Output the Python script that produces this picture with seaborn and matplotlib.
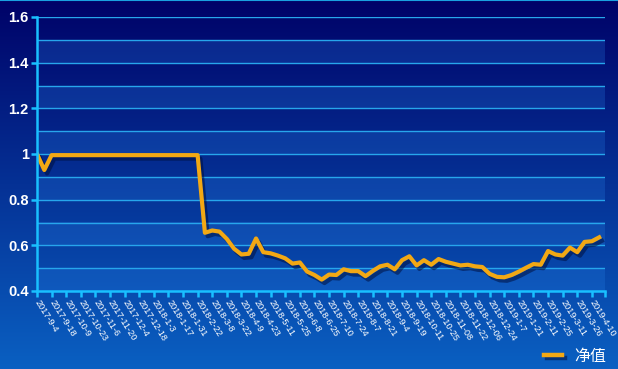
import numpy as np
import matplotlib
matplotlib.use("Agg")
import matplotlib.pyplot as plt
import matplotlib.patheffects as pe
import seaborn as sns
import pandas as pd

# ---- data ----
tick_labels = ["2017-9-4", "2017-9-18", "2017-10-9", "2017-10-23", "2017-11-6", "2017-11-20",
               "2017-12-4", "2017-12-18", "2018-1-3", "2018-1-17", "2018-1-31", "2018-2-22",
               "2018-3-8", "2018-3-22", "2018-4-9", "2018-4-23", "2018-5-11", "2018-5-25",
               "2018-6-8", "2018-6-25", "2018-7-10", "2018-7-24", "2018-8-7", "2018-8-21",
               "2018-9-4", "2018-9-19", "2018-10-11", "2018-10-25", "2018-11-08", "2018-11-22",
               "2018-12-06", "2018-12-24", "2019-1-7", "2019-1-21", "2019-2-11", "2019-2-25",
               "2019-3-11", "2019-3-26", "2019-4-10"]
# net value sampled every 5 trading days
nav = [1.00, 0.93, 0.995, 0.995, 0.995, 0.995, 0.995, 0.995, 0.995, 0.995,
       0.995, 0.995, 0.995, 0.995, 0.995, 0.995, 0.995, 0.995, 0.995, 0.995,
       0.995, 0.995, 0.995, 0.655, 0.665, 0.66, 0.628, 0.585, 0.56, 0.563,
       0.63, 0.57, 0.565, 0.555, 0.543, 0.52, 0.525, 0.485, 0.47, 0.45,
       0.472, 0.47, 0.495, 0.487, 0.487, 0.465, 0.488, 0.508, 0.515, 0.495,
       0.535, 0.552, 0.512, 0.535, 0.515, 0.54, 0.528, 0.52, 0.512, 0.515,
       0.508, 0.505, 0.475, 0.462, 0.46, 0.47, 0.485, 0.502, 0.518, 0.515,
       0.575, 0.56, 0.555, 0.59, 0.57, 0.615, 0.618, 0.635]
series_name = "净值"

step = 5
label_every = 10
x_end = 389

df = pd.DataFrame({"day": np.arange(len(nav)) * step, "nav": nav})

W, H = 618, 369
fig = plt.figure(figsize=(W / 100, H / 100), dpi=100)

# background gradient
bg = fig.add_axes([0, 0, 1, 1], zorder=-10)
grad = np.linspace(0, 1, 256).reshape(-1, 1)
top = np.array([0x00, 0x02, 0x68]) / 255
bot = np.array([0x0a, 0x60, 0xc2]) / 255
img = top + (bot - top) * grad[:, :, None] * np.ones((1, 2, 1))
bg.imshow(img, aspect="auto", extent=[0, 1, 0, 1], origin="upper")
bg.axis("off")
bg.plot([0, 1], [0.999, 0.999], color="#1aa0e0", lw=1.5, transform=bg.transAxes)

ax = fig.add_axes([37 / W, (H - 291) / H, (605 - 37) / W, (291 - 17) / H])
ax.set_facecolor("none")

# split area bands
for i, y0 in enumerate(np.arange(0.4, 1.6, 0.1)):
    if i % 2 == 0:
        ax.axhspan(y0, y0 + 0.1, color=(0.15, 0.50, 0.90), alpha=0.25, lw=0, zorder=0)
for y in np.arange(0.5, 1.61, 0.1):
    ax.axhline(y, color="#27a6ec", lw=1.0, zorder=1)

sns.lineplot(data=df, x="day", y="nav", ax=ax, color="#f2a814", lw=3.0, zorder=3,
             label=series_name,
             path_effects=[pe.SimpleLineShadow(offset=(2, -2.5), shadow_color="#001040", alpha=0.55),
                           pe.Normal()])

ax.set_xlim(0, x_end)
ax.set_ylim(0.4, 1.6)
ax.set_xlabel("")
ax.set_ylabel("")

ax.set_xticks(np.arange(len(tick_labels)) * label_every)
ax.set_xticks([x_end], minor=True)
ax.set_xticklabels(tick_labels, rotation=-58, rotation_mode="anchor", ha="left", va="center",
                   fontsize=6.6, color="white", family="Liberation Sans")
yt = [0.4, 0.6, 0.8, 1.0, 1.2, 1.4, 1.6]
ax.set_yticks(yt)
ax.set_yticklabels(["0.4", "0.6", "0.8", "1", "1.2", "1.4", "1.6"],
                   fontsize=10.5, color="white", fontweight="bold", family="Liberation Sans")

spine_c = "#19c0ff"
for s in ["top", "right"]:
    ax.spines[s].set_visible(False)
for s in ["left", "bottom"]:
    ax.spines[s].set_color(spine_c)
    ax.spines[s].set_linewidth(1.8)
    ax.spines[s].set_zorder(4)
ax.tick_params(axis="x", which="both", colors=spine_c, length=4, width=1.8, pad=3, labelcolor="white")
ax.tick_params(axis="y", colors=spine_c, length=4, width=1.8, pad=2, labelcolor="white")

leg = ax.legend(loc="center left", bbox_to_anchor=(544 / W, 13 / H), bbox_transform=fig.transFigure,
                frameon=False, handlelength=1.15, handletextpad=0.75, borderpad=0, borderaxespad=0,
                prop={"family": ["Noto Sans CJK SC", "DejaVu Sans"], "size": 11.5})
for t in leg.get_texts():
    t.set_color("white")
for h in leg.get_lines():
    h.set_linewidth(3.2)

fig.savefig("out.png", dpi=100)
